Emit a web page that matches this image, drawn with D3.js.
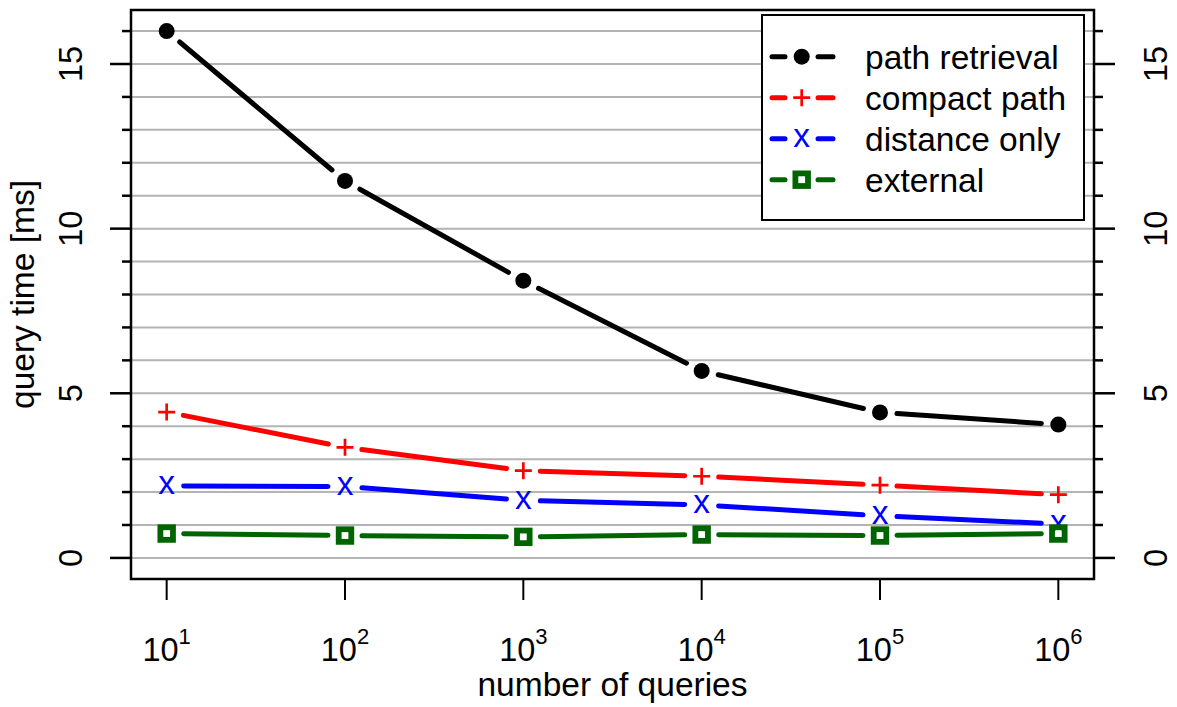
<!DOCTYPE html>
<html>
<head>
<meta charset="utf-8">
<script src="https://cdn.jsdelivr.net/npm/d3@7/dist/d3.min.js"></script>
<style>
  html, body { margin: 0; padding: 0; background: #fff; }
  svg { display: block; font-family: "Liberation Sans", Arial, Helvetica, sans-serif; }
</style>
</head>
<body>
<div id="chart"></div>
<script>
// values
var queries = [1e1, 1e2, 1e3, 1e4, 1e5, 1e6];
var pathRetrieval = [16.0, 11.45, 8.42, 5.68, 4.42, 4.05];
var compactPath = [4.43, 3.36, 2.65, 2.48, 2.21, 1.92];
var distanceOnly = [2.19, 2.17, 1.75, 1.61, 1.28, 1.03];
var external = [0.74, 0.68, 0.64, 0.71, 0.68, 0.74];
var seriesNames = ["path retrieval", "compact path", "distance only", "external"];
var seriesColors = ["#000000", "#ff0000", "#0000ff", "#006400"];
var seriesSymbols = ["circle", "plus", "x", "square"];
var yGrid = d3.range(0, 17);
var yLabelTicks = [0, 5, 10, 15];

var W = 1177, H = 707;
var plot = { left: 131, right: 1094, top: 10, bottom: 579 };
var labelSize = 33.5;

var svg = d3.select("#chart").append("svg")
    .attr("width", W)
    .attr("height", H);

// R style 4% expansion on both axes
var xScale = d3.scaleLog()
    .domain([Math.pow(10, 0.8), Math.pow(10, 6.2)])
    .range([plot.left, plot.right]);
var yScale = d3.scaleLinear()
    .domain([-0.64, 16.64])
    .range([plot.bottom, plot.top]);

// grid lines
svg.append("g")
    .selectAll("line")
    .data(yGrid)
    .enter().append("line")
    .attr("x1", plot.left).attr("x2", plot.right)
    .attr("y1", d => yScale(d)).attr("y2", d => yScale(d))
    .attr("stroke", "#b4b4b4")
    .attr("stroke-width", 2);

// left axis ticks
var leftAxis = svg.append("g");
leftAxis.selectAll("line")
    .data(yGrid)
    .enter().append("line")
    .attr("x1", d => d % 5 === 0 ? plot.left - 21 : plot.left - 9)
    .attr("x2", plot.left)
    .attr("y1", d => yScale(d)).attr("y2", d => yScale(d))
    .attr("stroke", "#000").attr("stroke-width", 2.5);
leftAxis.selectAll("text")
    .data(yLabelTicks)
    .enter().append("text")
    .attr("transform", d => "translate(82," + yScale(d) + ") rotate(-90)")
    .attr("text-anchor", "middle")
    .attr("font-size", 32.5)
    .text(d => d);

// right axis ticks
var rightAxis = svg.append("g");
rightAxis.selectAll("line")
    .data(yGrid)
    .enter().append("line")
    .attr("x1", plot.right)
    .attr("x2", d => d % 5 === 0 ? plot.right + 21 : plot.right + 9)
    .attr("y1", d => yScale(d)).attr("y2", d => yScale(d))
    .attr("stroke", "#000").attr("stroke-width", 2.5);
rightAxis.selectAll("text")
    .data(yLabelTicks)
    .enter().append("text")
    .attr("transform", d => "translate(1167," + yScale(d) + ") rotate(-90)")
    .attr("text-anchor", "middle")
    .attr("font-size", 32.5)
    .text(d => d);

// x axis ticks and labels (10^k)
var bottomAxis = svg.append("g");
bottomAxis.selectAll("line")
    .data(queries)
    .enter().append("line")
    .attr("x1", d => xScale(d)).attr("x2", d => xScale(d))
    .attr("y1", plot.bottom).attr("y2", plot.bottom + 21)
    .attr("stroke", "#000").attr("stroke-width", 2);
var xLab = bottomAxis.selectAll("text")
    .data(queries)
    .enter().append("text")
    .attr("x", d => xScale(d))
    .attr("y", 661)
    .attr("text-anchor", "middle")
    .attr("font-size", 32.5);
xLab.append("tspan").text("10");
xLab.append("tspan")
    .attr("dy", -17)
    .attr("font-size", 22)
    .text(d => Math.round(Math.log10(d)));

// axis titles
svg.append("text")
    .attr("x", (plot.left + plot.right) / 2)
    .attr("y", 696)
    .attr("text-anchor", "middle")
    .attr("font-size", labelSize)
    .text("number of queries");
svg.append("text")
    .attr("transform", "translate(34," + (plot.top + plot.bottom) / 2 + ") rotate(-90)")
    .attr("text-anchor", "middle")
    .attr("font-size", labelSize)
    .text("query time [ms]");

// plot box
svg.append("rect")
    .attr("x", plot.left).attr("y", plot.top)
    .attr("width", plot.right - plot.left)
    .attr("height", plot.bottom - plot.top)
    .attr("fill", "none")
    .attr("stroke", "#000")
    .attr("stroke-width", 2.5);

function drawSymbol(g, type, color, cx, cy) {
    if (type === "circle") {
        g.append("circle").attr("cx", cx).attr("cy", cy).attr("r", 8).attr("fill", color);
    } else if (type === "plus") {
        g.append("path")
            .attr("d", "M" + (cx - 8.5) + "," + cy + "H" + (cx + 8.5) + "M" + cx + "," + (cy - 8.5) + "V" + (cy + 8.5))
            .attr("stroke", color).attr("stroke-width", 2.7).attr("fill", "none");
    } else if (type === "x") {
        g.append("text").attr("x", cx).attr("y", cy + 8.5)
            .attr("text-anchor", "middle").attr("font-size", labelSize)
            .attr("fill", color).text("x");
    } else if (type === "square") {
        g.append("rect")
            .attr("x", cx - 6.3).attr("y", cy - 6.3)
            .attr("width", 12.6).attr("height", 12.6)
            .attr("fill", "none").attr("stroke", color).attr("stroke-width", 5.8);
    }
}

// series (type = "b": lines with gaps around the points)
var allSeries = [pathRetrieval, compactPath, distanceOnly, external];
var gap = 17;
allSeries.forEach(function (vals, i) {
    var g = svg.append("g");
    var pts = vals.map((v, j) => [xScale(queries[j]), yScale(v)]);
    for (var j = 0; j < pts.length - 1; j++) {
        var a = pts[j], b = pts[j + 1];
        var dx = b[0] - a[0], dy = b[1] - a[1];
        var len = Math.sqrt(dx * dx + dy * dy);
        var ux = dx / len, uy = dy / len;
        g.append("line")
            .attr("x1", a[0] + ux * gap).attr("y1", a[1] + uy * gap)
            .attr("x2", b[0] - ux * gap).attr("y2", b[1] - uy * gap)
            .attr("stroke", seriesColors[i])
            .attr("stroke-width", 5)
            .attr("stroke-linecap", "round");
    }
    pts.forEach(p => drawSymbol(g, seriesSymbols[i], seriesColors[i], p[0], p[1]));
});

// legend
var legend = svg.append("g");
legend.append("rect")
    .attr("x", 762).attr("y", 15)
    .attr("width", 322).attr("height", 205)
    .attr("fill", "#fff")
    .attr("stroke", "#000")
    .attr("stroke-width", 2);
seriesNames.forEach(function (name, i) {
    var ly = 56.7 + i * 41;
    legend.append("line")
        .attr("x1", 772).attr("x2", 785).attr("y1", ly).attr("y2", ly)
        .attr("stroke", seriesColors[i]).attr("stroke-width", 5).attr("stroke-linecap", "round");
    legend.append("line")
        .attr("x1", 818).attr("x2", 833).attr("y1", ly).attr("y2", ly)
        .attr("stroke", seriesColors[i]).attr("stroke-width", 5).attr("stroke-linecap", "round");
    drawSymbol(legend, seriesSymbols[i], seriesColors[i], 801.7, ly);
    legend.append("text")
        .attr("x", 865).attr("y", ly + 11.8)
        .attr("font-size", labelSize)
        .text(name);
});
</script>
</body>
</html>
